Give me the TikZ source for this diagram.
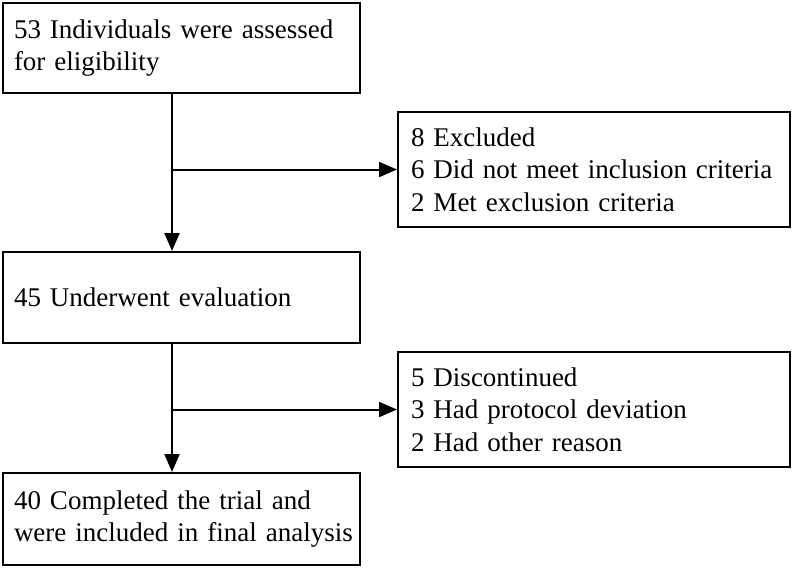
\documentclass[tikz,border=0pt]{standalone}
\usepackage{fontspec}
\setmainfont[WordSpace=0.8]{Liberation Serif}
\usetikzlibrary{arrows.meta}

\tikzset{every picture/.style={line width=2pt}}
\tikzset{
  flowbox/.style={draw, rectangle, align=left, inner sep=0pt, font=\fontsize{27}{32.5}\selectfont},
  flowarrow/.style={-{Triangle[length=18pt,width=15pt]}}
}

\begin{document}
\begin{tikzpicture}[x=1pt,y=1pt,yscale=-1,xscale=1]
\useasboundingbox (0,0) rectangle (792,568);

% Boxes
\node [flowbox, minimum width=357pt, minimum height=90pt, text width=335pt] (assessed) at (181.5,48) {53 Individuals were assessed\\for eligibility};
\node [flowbox, minimum width=392pt, minimum height=115pt, text width=366pt] (excluded) at (594,169.5) {8 Excluded\\6 Did not meet inclusion criteria\\2 Met exclusion criteria};
\node [flowbox, minimum width=357pt, minimum height=91pt, text width=335pt] (evaluated) at (181.5,297.5) {45 Underwent evaluation};
\node [flowbox, minimum width=392pt, minimum height=115pt, text width=366pt] (discontinued) at (594,409.5) {5 Discontinued\\3 Had protocol deviation\\2 Had other reason};
\node [flowbox, minimum width=357pt, minimum height=92pt, text width=335pt] (completed) at (181.5,519) {40 Completed the trial and\\\mbox{were included in final analysis}};

% Arrows
\coordinate (spine) at (172,0);
\draw [flowarrow] (assessed.south -| spine) -- (evaluated.north -| spine);
\draw [flowarrow] (spine |- excluded.west) -- (excluded.west);
\draw [flowarrow] (evaluated.south -| spine) -- (completed.north -| spine);
\draw [flowarrow] (spine |- discontinued.west) -- (discontinued.west);

\end{tikzpicture}
\end{document}
